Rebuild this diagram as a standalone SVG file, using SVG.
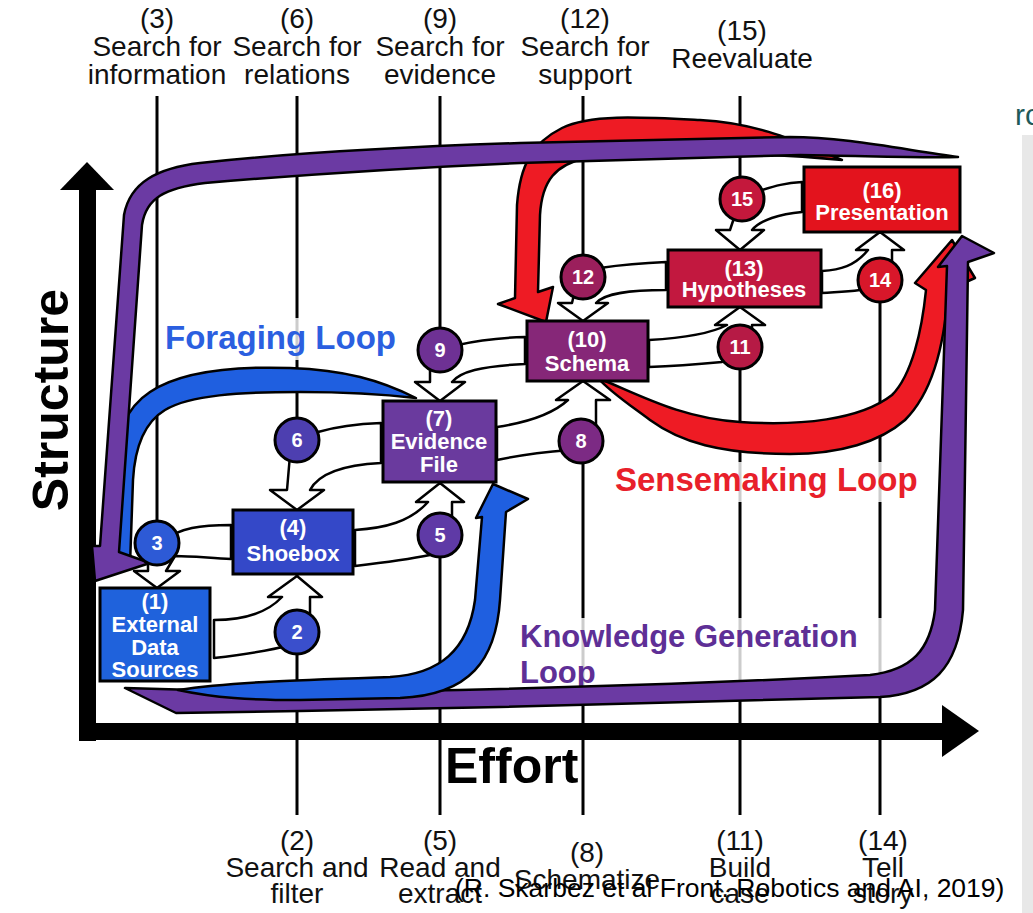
<svg xmlns="http://www.w3.org/2000/svg" width="1033" height="913" viewBox="0 0 1033 913">
<style>
.lbl{font-family:"Liberation Sans",Arial,sans-serif;font-size:28px;fill:#111;text-anchor:middle}
.nt{font-family:"Liberation Sans",Arial,sans-serif;font-weight:bold;font-size:22px;fill:#fff;text-anchor:middle}
.ct{font-family:"Liberation Sans",Arial,sans-serif;font-weight:bold;font-size:20px;fill:#fff;text-anchor:middle}
.big{font-family:"Liberation Sans",Arial,sans-serif;font-weight:bold;fill:#000}
.loopt{font-family:"Liberation Sans",Arial,sans-serif;font-weight:bold}
.vl{stroke:#000;stroke-width:3;fill:none}
.box{stroke:#000;stroke-width:3}
.flow{fill:#fff;stroke:#000;stroke-width:2.5;stroke-linejoin:round}
.loop{stroke:#000;stroke-width:2.5;stroke-linejoin:round}
.halo{fill:#fff;fill-opacity:0.8}
</style>
<rect x="0" y="0" width="1033" height="913" fill="#fff"/>
<rect x="1022" y="135" width="11" height="778" fill="#e8e8e8"/>
<text x="1015" y="125" style="font-family:'Liberation Sans',Arial,sans-serif;font-size:30px;fill:#1e5a5a">rc</text>

<g id="guides">
<line class="vl" x1="157" y1="96" x2="157" y2="543"/>
<line class="vl" x1="297" y1="96" x2="297" y2="815"/>
<line class="vl" x1="440" y1="96" x2="440" y2="815"/>
<line class="vl" x1="583" y1="96" x2="583" y2="815"/>
<line class="vl" x1="740" y1="96" x2="740" y2="815"/>
<line class="vl" x1="880" y1="280" x2="880" y2="815"/>
</g>

<g id="top-labels">
<text class="lbl" x="157" y="28">(3)</text><text class="lbl" x="157" y="56">Search for</text><text class="lbl" x="157" y="84">information</text>
<text class="lbl" x="297" y="28">(6)</text><text class="lbl" x="297" y="56">Search for</text><text class="lbl" x="297" y="84">relations</text>
<text class="lbl" x="440" y="28">(9)</text><text class="lbl" x="440" y="56">Search for</text><text class="lbl" x="440" y="84">evidence</text>
<text class="lbl" x="585" y="28">(12)</text><text class="lbl" x="585" y="56">Search for</text><text class="lbl" x="585" y="84">support</text>
<text class="lbl" x="742" y="40">(15)</text><text class="lbl" x="742" y="68">Reevaluate</text>
</g>

<g id="bottom-labels">
<text class="lbl" x="297" y="850">(2)</text><text class="lbl" x="297" y="877">Search and</text><text class="lbl" x="297" y="903">filter</text>
<text class="lbl" x="440" y="850">(5)</text><text class="lbl" x="440" y="877">Read and</text><text class="lbl" x="440" y="903">extract</text>
<text class="lbl" x="587" y="862">(8)</text><text class="lbl" x="587" y="889">Schematize</text>
<text class="lbl" x="740" y="850">(11)</text><text class="lbl" x="740" y="877">Build</text><text class="lbl" x="740" y="903">case</text>
<text class="lbl" x="883" y="850">(14)</text><text class="lbl" x="883" y="877">Tell</text><text class="lbl" x="883" y="903">story</text>
</g>

<g id="loop-labels">
<rect class="halo" x="162" y="318" width="240" height="42"/>
<rect class="halo" x="610" y="462" width="315" height="40"/>
<rect class="halo" x="515" y="618" width="376" height="74"/>
<text class="loopt" x="165" y="349" style="font-size:33px;fill:#2b5fe0">Foraging Loop</text>
<text class="loopt" x="615" y="491" style="font-size:33px;fill:#e8202a">Sensemaking Loop</text>
<text class="loopt" x="520" y="647" style="font-size:31px;fill:#5e2f96">Knowledge Generation</text>
<text class="loopt" x="520" y="683" style="font-size:31px;fill:#5e2f96">Loop</text>
</g>

<g id="axes">
<rect x="79" y="188" width="17" height="553" fill="#000"/>
<polygon points="60,190 87,162 114,190" fill="#000"/>
<rect x="79" y="723" width="865" height="17" fill="#000"/>
<polygon points="942,705 979,731 942,757" fill="#000"/>
<text class="big" x="68" y="400" text-anchor="middle" font-size="50" transform="rotate(-90 68 400)">Structure</text>
<text class="big" x="445" y="783" font-size="50">Effort</text>
</g>

<g id="loops">
<path class="loop" fill="#ee1b24" d="M842,160 C800,143 760,123 700,120 C640,117 590,114 562,128 C532,143 520,165 517,205 L515,298 L498,304 L546,322 L553,287 L538,292 L540,215 C542,180 556,165 585,158 C650,150 760,152 842,160 Z"/>
<path class="loop" fill="#1f5fe0" d="M416,398 C380,380 345,370 290,368 C230,366 180,372 150,392 C125,408 113,440 110,480 L107,565 L130,565 L133,480 C135,445 145,422 165,410 C190,395 240,392 300,392 C350,392 390,395 416,398 Z"/>
<path class="loop" fill="#6b3aa3" d="M958,157 C905,150 845,137 790,137 L520,143 C400,147 300,152 200,163 C158,168 130,182 124,215 L100,546 L92,546 L95,581 L150,563 L119,552 L142,225 C146,198 165,188 205,183 C300,175 400,168 520,163 L800,155 C870,156 920,158 958,157 Z"/>
<path class="loop" fill="#ee1b24" d="M598,378 C640,395 680,418 740,422 C800,426 860,420 892,395 C912,375 922,330 926,290 L915,283 L952,240 L975,278 L948,290 C945,340 935,390 905,420 C880,442 840,454 790,454 C720,454 680,442 650,420 C630,405 610,392 598,378 Z"/>
<path class="loop" fill="#6b3aa3" d="M125,688 L300,693 C500,690 700,684 870,675 C912,670 930,650 935,610 L947,266 L938,267 L962,236 L994,253 L968,262 L963,610 C958,668 932,694 880,697 L500,707 L300,711 L176,713 Z"/>
<path class="loop" fill="#1f5fe0" d="M178,690 C230,682 300,680 390,677 C440,674 468,650 475,600 L482,517 L476,518 L493,484 L528,499 L506,512 L500,600 C496,660 470,695 400,698 L300,700 C250,700 215,698 178,690 Z"/>
</g>

<g id="connectors">
<path class="flow" d="M214,620 C245,620 268,612 282,597 L268,597 L297,576 L322,597 L310,597 L310,625 L290,645 C265,652 240,655 214,658 Z"/>
<path class="flow" d="M231,525 C200,525 180,528 165,540 L148,560 L148,571 L134,571 L157,588 L180,571 L166,571 L175,556 C190,556 210,558 231,559 Z"/>
<path class="flow" d="M355,530 C385,528 410,522 428,502 L416,502 L440,483 L464,502 L452,502 L452,530 L430,555 C405,560 380,563 355,566 Z"/>
<path class="flow" d="M381,423 C355,424 335,427 318,432 L290,455 L287,490 L270,490 L297,510 L324,490 L310,490 C318,475 340,465 381,463 Z"/>
<path class="flow" d="M525,337 C495,338 475,341 458,345 L430,365 L430,382 L415,382 L440,401 L465,382 L452,382 C460,372 480,366 525,364 Z"/>
<path class="flow" d="M497,427 C530,422 555,412 568,400 L556,400 L583,381 L610,400 L596,400 L596,425 L570,450 C545,452 520,455 497,460 Z"/>
<path class="flow" d="M666,262 C640,263 620,265 600,268 L575,290 L572,303 L558,303 L583,321 L608,303 L596,303 C605,293 630,290 666,290 Z"/>
<path class="flow" d="M649,340 C685,338 710,334 727,325 L715,325 L740,307 L765,325 L752,325 L752,345 L722,362 C700,364 675,366 649,367 Z"/>
<path class="flow" d="M802,182 C785,183 775,186 762,190 L735,215 L730,230 L716,230 L740,250 L764,230 L752,230 C760,220 780,214 802,212 Z"/>
<path class="flow" d="M822,271 C840,270 855,266 868,250 L856,250 L880,232 L904,250 L892,250 L892,275 L860,290 C845,292 835,292 822,293 Z"/>
</g>

<g id="n1"><rect class="box" x="100" y="588" width="110" height="93" fill="#1f62dc"/>
<text class="nt" x="155" y="609">(1)</text><text class="nt" x="155" y="632">External</text><text class="nt" x="155" y="655">Data</text><text class="nt" x="155" y="677">Sources</text></g>
<g id="n4"><rect class="box" x="233" y="510" width="120" height="64" fill="#3448c8"/>
<text class="nt" x="293" y="535">(4)</text><text class="nt" x="293" y="561">Shoebox</text></g>
<g id="n7"><rect class="box" x="383" y="401" width="113" height="81" fill="#6a3a9e"/>
<text class="nt" x="439" y="426">(7)</text><text class="nt" x="439" y="449">Evidence</text><text class="nt" x="439" y="472">File</text></g>
<g id="n10"><rect class="box" x="527" y="321" width="121" height="60" fill="#862778"/>
<text class="nt" x="587" y="347">(10)</text><text class="nt" x="587" y="371">Schema</text></g>
<g id="n13"><rect class="box" x="668" y="250" width="153" height="57" fill="#c2183f"/>
<text class="nt" x="744" y="276">(13)</text><text class="nt" x="744" y="297">Hypotheses</text></g>
<g id="n16"><rect class="box" x="804" y="167" width="156" height="65" fill="#e3131d"/>
<text class="nt" x="882" y="198">(16)</text><text class="nt" x="882" y="220">Presentation</text></g>

<g id="c3"><circle class="box" cx="157" cy="543" r="22" fill="#2d5ad6"/><text class="ct" x="157" y="550">3</text></g>
<g id="c2"><circle class="box" cx="297" cy="632" r="22" fill="#3a4fcc"/><text class="ct" x="297" y="639">2</text></g>
<g id="c6"><circle class="box" cx="297" cy="440" r="22" fill="#4d3fb0"/><text class="ct" x="297" y="447">6</text></g>
<g id="c5"><circle class="box" cx="440" cy="535" r="22" fill="#5f3aa6"/><text class="ct" x="440" y="542">5</text></g>
<g id="c9"><circle class="box" cx="440" cy="350" r="22" fill="#6e3194"/><text class="ct" x="440" y="357">9</text></g>
<g id="c8"><circle class="box" cx="581" cy="441" r="22" fill="#7c2a84"/><text class="ct" x="581" y="448">8</text></g>
<g id="c12"><circle class="box" cx="583" cy="277" r="22" fill="#9b1f5c"/><text class="ct" x="583" y="284">12</text></g>
<g id="c11"><circle class="box" cx="740" cy="347" r="22" fill="#b61a45"/><text class="ct" x="740" y="354">11</text></g>
<g id="c15"><circle class="box" cx="742" cy="199" r="22" fill="#c4183c"/><text class="ct" x="742" y="206">15</text></g>
<g id="c14"><circle class="box" cx="880" cy="280" r="22" fill="#d8172a"/><text class="ct" x="880" y="287">14</text></g>

<text x="455" y="897" style="font-family:'Liberation Sans',Arial,sans-serif;font-size:26.5px;fill:#000">(R. Skarbez et al Front. Robotics and AI, 2019)</text>
</svg>
